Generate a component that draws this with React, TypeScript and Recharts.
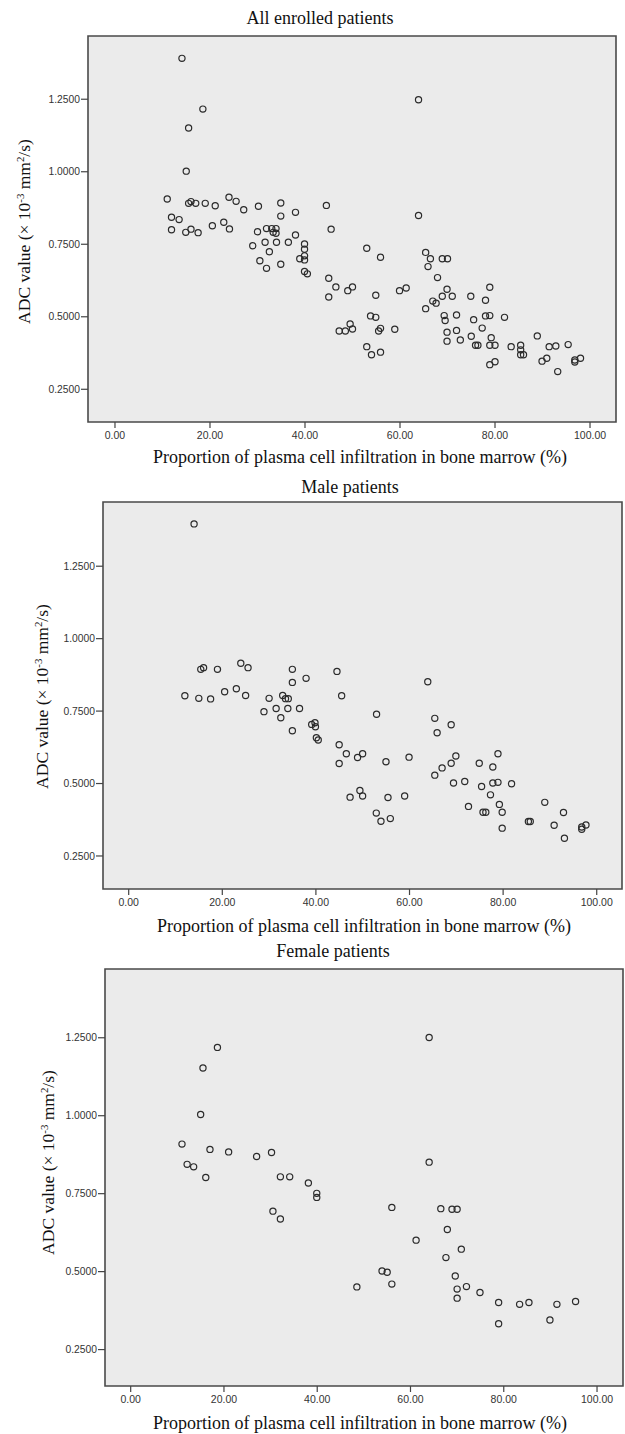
import React from 'react';
import { ScatterChart, Scatter, XAxis, YAxis, ReferenceArea, CartesianGrid } from 'recharts';

const xTicks = [0, 20, 40, 60, 80, 100];
const yTicks = [0.25, 0.5, 0.75, 1.0, 1.25];

const titles = ['All enrolled patients', 'Male patients', 'Female patients'];
const xLabel = 'Proportion of plasma cell infiltration in bone marrow (%)';

const allX = [14.1,18.5,15.5,15.0,11.0,15.5,16.0,17.0,19.0,21.1,
  24.0,25.5,27.1,30.2,34.9,38.0,34.9,11.9,13.5,11.9,
  14.9,16.0,17.5,20.5,22.9,24.1,30.0,31.9,33.0,33.9,
  33.3,33.9,38.0,29.0,31.6,34.0,36.5,32.5,30.5,31.9,
  34.9,39.9,39.9,38.9,39.9,39.9,39.9,40.5,45.5,44.5,
  63.9,63.9,53.0,55.9,45.0,45.0,46.5,49.0,50.0,54.9,
  47.2,48.5,49.5,50.0,53.8,54.9,55.5,55.9,58.9,53.0,
  54.0,55.9,59.9,61.3,65.4,66.4,65.9,68.9,70.0,67.9,
  69.9,68.9,71.0,66.9,67.6,65.4,69.3,69.5,71.9,69.9,
  69.9,71.9,72.7,74.9,75.5,75.0,75.9,76.4,77.3,78.0,
  78.0,78.9,78.9,79.2,78.9,80.0,78.9,80.0,82.0,83.4,
  85.4,85.4,85.4,86.0,88.9,91.4,92.8,89.9,90.9,95.4,
  93.2,96.8,96.8,98.0];
const allY = [1.391,1.216,1.151,1.002,0.906,0.891,0.897,0.891,0.891,0.883,
  0.912,0.898,0.869,0.881,0.892,0.860,0.847,0.843,0.835,0.800,
  0.791,0.802,0.790,0.814,0.826,0.803,0.793,0.804,0.804,0.804,
  0.791,0.788,0.782,0.745,0.757,0.757,0.757,0.724,0.693,0.667,
  0.681,0.751,0.733,0.700,0.710,0.696,0.656,0.648,0.802,0.884,
  1.248,0.849,0.736,0.705,0.633,0.568,0.603,0.590,0.603,0.574,
  0.451,0.451,0.475,0.458,0.503,0.498,0.451,0.460,0.457,0.397,
  0.369,0.378,0.590,0.599,0.722,0.700,0.673,0.700,0.700,0.635,
  0.595,0.571,0.571,0.554,0.547,0.528,0.504,0.487,0.506,0.447,
  0.416,0.453,0.420,0.571,0.490,0.433,0.402,0.402,0.461,0.557,
  0.503,0.504,0.602,0.428,0.402,0.402,0.335,0.345,0.498,0.397,
  0.402,0.386,0.369,0.369,0.434,0.397,0.399,0.347,0.357,0.404,
  0.311,0.351,0.344,0.357];

const maleX = [13.97,15.4,16.0,18.97,23.95,25.5,34.97,34.97,37.9,44.5,
  63.9,45.5,12.0,14.98,17.5,20.5,23.0,24.98,30.0,32.9,
  33.5,34.1,28.9,31.5,34.0,36.5,32.5,34.97,39.1,39.8,
  39.9,40.1,40.5,52.96,65.4,68.9,65.9,44.97,44.97,46.5,
  48.9,49.98,54.97,59.9,49.4,49.98,47.3,55.4,58.96,52.9,
  53.9,55.9,65.4,66.96,68.9,69.9,69.4,71.8,72.6,74.9,
  75.4,77.3,77.8,78.9,77.8,78.9,79.2,75.7,76.3,79.8,
  79.8,81.8,85.4,85.8,88.9,92.9,90.9,93.1,96.8,96.8,
  97.7];
const maleY = [1.396,0.894,0.900,0.894,0.915,0.900,0.894,0.849,0.863,0.887,
  0.851,0.803,0.803,0.794,0.792,0.817,0.827,0.804,0.794,0.804,
  0.793,0.793,0.748,0.759,0.759,0.759,0.727,0.682,0.704,0.710,
  0.696,0.658,0.650,0.739,0.725,0.703,0.675,0.634,0.569,0.603,
  0.590,0.603,0.575,0.591,0.476,0.457,0.453,0.452,0.457,0.398,
  0.370,0.379,0.529,0.554,0.570,0.595,0.502,0.507,0.421,0.570,
  0.490,0.461,0.557,0.603,0.502,0.504,0.428,0.401,0.401,0.401,
  0.346,0.499,0.369,0.369,0.435,0.400,0.356,0.311,0.350,0.342,
  0.357];

const femaleX = [18.6,15.5,15.0,11.0,17.0,21.0,27.0,30.2,12.1,13.5,
  16.1,32.1,34.1,38.1,39.9,39.9,30.5,32.1,64.0,64.0,
  56.0,66.5,68.9,70.0,67.9,61.2,70.9,67.6,53.9,55.0,
  56.0,48.5,69.6,70.0,72.0,70.0,74.9,78.9,83.4,85.4,
  91.4,95.4,89.9,78.9];
const femaleY = [1.219,1.153,1.004,0.909,0.892,0.884,0.869,0.882,0.844,0.836,
  0.802,0.804,0.804,0.784,0.751,0.738,0.694,0.669,1.251,0.851,
  0.706,0.702,0.700,0.700,0.635,0.601,0.572,0.545,0.502,0.498,
  0.460,0.451,0.486,0.444,0.452,0.415,0.433,0.401,0.395,0.401,
  0.395,0.404,0.345,0.333];

const zip = (xs: number[], ys: number[]) => xs.map((x, i) => ({ x, y: ys[i] }));

const SERIF = '"Liberation Serif", "Times New Roman", serif';
const SANS = '"Liberation Sans", Arial, sans-serif';

const Ring = (props: any) => {
  const { cx, cy } = props;
  if (cx == null || cy == null) return null;
  return <circle cx={cx} cy={cy} r={3.1} fill="none" stroke="#2b2b2b" strokeWidth={1.2} />;
};

type Box = { l: number; t: number; r: number; b: number };

function Panel({ top, height, box, xDomain, yDomain, data }: {
  top: number; height: number; box: Box; xDomain: [number, number]; yDomain: [number, number]; data: { x: number; y: number }[];
}) {
  const xAxisH = top + height - box.b;
  return (
    <div style={{ position: 'absolute', left: 0, top, width: 625, height }}>
      <ScatterChart width={625} height={height} margin={{ top: box.t - top, right: 625 - box.r, bottom: 0, left: 0 }}>
        <CartesianGrid horizontal={false} vertical={false} fill="#ebebeb" />
        <XAxis
          type="number" dataKey="x" domain={xDomain} ticks={xTicks} allowDataOverflow interval={0}
          axisLine={false} tickLine={{ stroke: '#444', strokeWidth: 1.2 }} tickSize={6} tickMargin={4}
          height={xAxisH}
          tick={{ fill: '#333', fontSize: 10.5, fontFamily: SANS }}
          tickFormatter={(v: number) => v.toFixed(2)}
        />
        <YAxis
          type="number" dataKey="y" domain={yDomain} ticks={yTicks} allowDataOverflow interval={0}
          axisLine={false} tickLine={{ stroke: '#444', strokeWidth: 1.2 }} tickSize={7} tickMargin={1}
          width={box.l}
          tick={{ fill: '#333', fontSize: 10.3, fontFamily: SANS }}
          tickFormatter={(v: number) => v.toFixed(4)}
        />
        <ReferenceArea
          x1={xDomain[0]} x2={xDomain[1]} y1={yDomain[0]} y2={yDomain[1]}
          ifOverflow="visible" fill="none" fillOpacity={0} stroke="#4a4a4a" strokeWidth={1.6}
        />
        <Scatter data={data} shape={Ring} isAnimationActive={false} />
      </ScatterChart>
    </div>
  );
}

const Txt = ({ cx, cy, size, rotate, children }: { cx: number; cy: number; size: number; rotate?: boolean; children: React.ReactNode }) => (
  <div style={{
    position: 'absolute', left: cx - 300, top: cy - size * 0.6, width: 600, height: size * 1.2,
    lineHeight: `${size * 1.2}px`, fontSize: size, textAlign: 'center', fontFamily: SERIF, color: '#111',
    whiteSpace: 'nowrap', transform: rotate ? 'rotate(-90deg)' : undefined,
  }}>{children}</div>
);

const Sup = ({ children }: { children: React.ReactNode }) => (
  <span style={{ fontSize: '0.62em', position: 'relative', top: '-0.6em' }}>{children}</span>
);

const YLabel = () => (
  <>ADC value (× 10<Sup>-3</Sup> mm<Sup>2</Sup>/s)</>
);

export default function App() {
  return (
    <div style={{ position: 'absolute', left: 0, top: 0, width: 625, height: 1434, background: '#fff', overflow: 'hidden' }}>
      <Panel top={0} height={470} box={{ l: 88, t: 36, r: 616, b: 422 }} xDomain={[-5.68, 105.47]} yDomain={[0.1372, 1.468]} data={zip(allX, allY)} />
      <Panel top={470} height={470} box={{ l: 103, t: 502, r: 622, b: 889 }} xDomain={[-5.49, 105.4]} yDomain={[0.136, 1.4716]} data={zip(maleX, maleY)} />
      <Panel top={940} height={494} box={{ l: 105, t: 969, r: 623, b: 1386 }} xDomain={[-5.51, 105.57]} yDomain={[0.1332, 1.4705]} data={zip(femaleX, femaleY)} />

      <Txt cx={320} cy={18.5} size={18}>{titles[0]}</Txt>
      <Txt cx={350} cy={488} size={18}>{titles[1]}</Txt>
      <Txt cx={333} cy={952} size={18}>{titles[2]}</Txt>

      <Txt cx={360} cy={457.5} size={18}>{xLabel}</Txt>
      <Txt cx={364} cy={926.5} size={18}>{xLabel}</Txt>
      <Txt cx={360} cy={1423.5} size={18}>{xLabel}</Txt>

      <Txt cx={24} cy={231.7} size={17.5} rotate><YLabel /></Txt>
      <Txt cx={41.7} cy={696.7} size={17.5} rotate><YLabel /></Txt>
      <Txt cx={47.8} cy={1162} size={17.5} rotate><YLabel /></Txt>
    </div>
  );
}
